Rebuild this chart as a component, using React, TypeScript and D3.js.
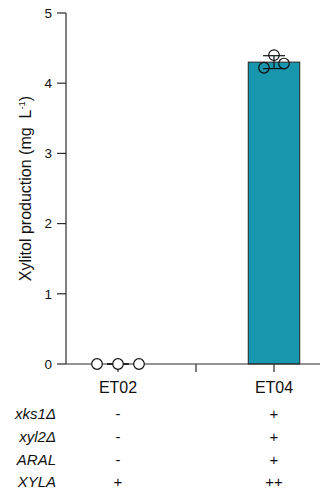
import React from "react";
import * as d3 from "d3";

// Strains and replicate measurements (mg/L)
const strains = ["ET02", "ET04"];
const replicatesET02 = [0, 0, 0];
const replicatesET04 = [4.22, 4.4, 4.28];
const yTicks = [0, 1, 2, 3, 4, 5];

// Genotype table below the axis
const genotypeRows = ["xks1Δ", "xyl2Δ", "ARAL", "XYLA"];
const genotypeET02 = ["-", "-", "-", "+"];
const genotypeET04 = ["+", "+", "+", "++"];

const W = 322;
const H = 492;
const font = "'Liberation Sans', Arial, sans-serif";
const axisColor = "#2b2b2b";
const barColor = "#1796ad";

export default function App() {
  const y = d3.scaleLinear().domain([0, 5]).range([364, 13]);
  const x = d3.scaleBand().domain(strains).range([40, 352]);
  const cx = (s: string) => (x(s) ?? 0) + x.bandwidth() / 2;
  const barW = x.bandwidth() * 0.33;
  const xAxisLeft = 66;
  const xAxisRight = 320;

  const groups = [
    { name: "ET02", vals: replicatesET02 },
    { name: "ET04", vals: replicatesET04 },
  ];
  const offsets = [-1, 0, 1];

  return (
    <svg
      width={W}
      height={H}
      style={{ position: "absolute", left: 0, top: 0, display: "block" }}
      fontFamily={font}
    >
      <rect width={W} height={H} fill="#fff" />

      {/* bars */}
      {groups.map((g) => {
        const m = d3.mean(g.vals) ?? 0;
        return (
          <rect
            key={g.name}
            x={cx(g.name) - barW / 2}
            y={y(m)}
            width={barW}
            height={y(0) - y(m)}
            fill={barColor}
            stroke="#222"
            strokeWidth={1}
          />
        );
      })}

      {/* y axis */}
      <line x1={xAxisLeft} x2={xAxisLeft} y1={y(5)} y2={y(0)} stroke={axisColor} strokeWidth={1.2} />
      {yTicks.map((t) => (
        <g key={t}>
          <line x1={xAxisLeft - 9} x2={xAxisLeft} y1={y(t)} y2={y(t)} stroke={axisColor} strokeWidth={1.2} />
          <text x={xAxisLeft - 14} y={y(t)} dy="0.36em" textAnchor="end" fontSize={13.5} fill="#111">
            {t}
          </text>
        </g>
      ))}
      <text
        transform={`translate(31, ${(y(0) + y(5)) / 2}) rotate(-90)`}
        textAnchor="middle"
        fontSize={16}
        fill="#111"
      >
        Xylitol production (mg{"\u00a0\u00a0"}L
        <tspan dy={-6} fontSize={9.5}>-1</tspan>
        <tspan dy={6}>)</tspan>
      </text>

      {/* x axis */}
      <line x1={xAxisLeft} x2={xAxisRight} y1={y(0)} y2={y(0)} stroke={axisColor} strokeWidth={1.2} />
      {strains.map((s) => (
        <g key={s}>
          <line x1={cx(s)} x2={cx(s)} y1={y(0)} y2={y(0) + 8} stroke={axisColor} strokeWidth={1.2} />
          <text x={cx(s)} y={y(0) + 29} textAnchor="middle" fontSize={16} fill="#111">
            {s}
          </text>
        </g>
      ))}
      <line
        x1={x("ET04") ?? 0}
        x2={x("ET04") ?? 0}
        y1={y(0)}
        y2={y(0) + 8}
        stroke={axisColor}
        strokeWidth={1.2}
      />

      {/* error bars (mean ± SD) */}
      {groups.map((g) => {
        const m = d3.mean(g.vals) ?? 0;
        const sd = d3.deviation(g.vals) ?? 0;
        const c = cx(g.name);
        return (
          <g key={g.name} stroke="#111" strokeWidth={1.2}>
            <line x1={c} x2={c} y1={y(m + sd)} y2={y(m - sd)} />
            <line x1={c - 11} x2={c + 11} y1={y(m + sd)} y2={y(m + sd)} />
            <line x1={c - 11} x2={c + 11} y1={y(m - sd)} y2={y(m - sd)} />
          </g>
        );
      })}

      {/* replicate points */}
      {groups.map((g) =>
        g.vals.map((v, i) => (
          <circle
            key={g.name + i}
            cx={cx(g.name) + offsets[i] * (g.name === "ET04" ? 10 : 21)}
            cy={y(v)}
            r={5.3}
            fill="#fff"
            fillOpacity={g.name === "ET04" ? 0 : 1}
            stroke="#111"
            strokeWidth={1.2}
          />
        ))
      )}

      {/* genotype table */}
      {genotypeRows.map((r, i) => {
        const ty = 419 + i * 22.8;
        return (
          <g key={r} fill="#111">
            <text x={56} y={ty} textAnchor="end" fontStyle="italic" fontSize={15}>
              {r}
            </text>
            <text x={cx("ET02")} y={ty} textAnchor="middle" fontSize={15}>
              {genotypeET02[i]}
            </text>
            <text x={cx("ET04")} y={ty} textAnchor="middle" fontSize={15}>
              {genotypeET04[i]}
            </text>
          </g>
        );
      })}
    </svg>
  );
}
